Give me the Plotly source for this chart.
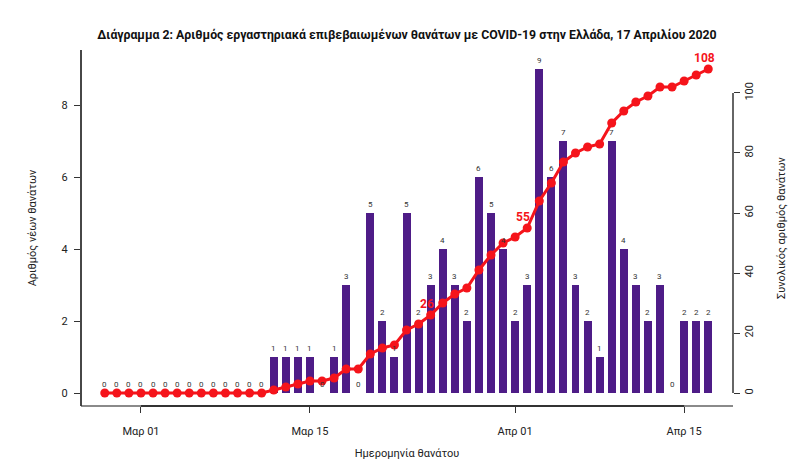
import pandas as pd
import plotly.graph_objects as go

dates = pd.date_range("2020-02-27", "2020-04-17", freq="D")

daily_deaths = [0, 0, 0, 0, 0, 0, 0, 0, 0, 0, 0, 0, 0, 0,
                1, 1, 1, 1, 0, 1, 3, 0, 5, 2, 1, 5, 2, 3, 4, 3, 2, 6, 5, 4,
                2, 3, 9, 6, 7, 3, 2, 1, 7, 4, 3, 2, 3, 0, 2, 2, 2]

cumulative_deaths = [0, 0, 0, 0, 0, 0, 0, 0, 0, 0, 0, 0, 0, 0,
                     1, 2, 3, 4, 4, 5, 8, 8, 13, 15, 16, 21, 23, 26, 30, 33, 35, 41, 46, 50,
                     52, 55, 64, 70, 77, 80, 82, 83, 90, 94, 97, 99, 102, 102, 104, 106, 108]

labelled_dates = ["2020-03-25", "2020-04-02", "2020-04-17"]

x_tick_dates = ["2020-03-01", "2020-03-15", "2020-04-01", "2020-04-15"]
x_tick_text = ["Μαρ 01", "Μαρ 15", "Απρ 01", "Απρ 15"]
left_ticks = [0, 2, 4, 6, 8]
right_ticks = [0, 20, 40, 60, 80, 100]

title_text = "Διάγραμμα 2: Αριθμός εργαστηριακά επιβεβαιωμένων θανάτων με COVID-19 στην Ελλάδα, 17 Απριλίου 2020"

FONT = "Roboto"
BAR_COLOR = "#4E1C87"
LINE_COLOR = "#F5141B"
AXIS_COLOR = "#333333"

fig = go.Figure()
fig.add_trace(go.Bar(
    x=dates, y=daily_deaths, yaxis="y",
    width=0.66 * 86400000,
    marker=dict(color=BAR_COLOR, line=dict(width=0)),
    hoverinfo="x+y",
))
fig.add_trace(go.Scatter(
    x=dates, y=cumulative_deaths, yaxis="y2", mode="lines+markers",
    line=dict(color=LINE_COLOR, width=3),
    marker=dict(color=LINE_COLOR, size=9),
))

annotations = []
for d, v in zip(dates, daily_deaths):
    annotations.append(dict(
        x=d, y=v, xref="x", yref="y", text=str(v), showarrow=False,
        yshift=9, font=dict(family=FONT, size=8, color="#333333"),
    ))
for d, v in zip(dates, cumulative_deaths):
    if d.strftime("%Y-%m-%d") in labelled_dates:
        annotations.append(dict(
            x=d, y=v, xref="x", yref="y2", text=str(v), showarrow=False,
            yshift=11, xshift=-4,
            font=dict(family=FONT, size=12, color=LINE_COLOR, weight="bold"),
        ))

shapes = [
    dict(type="line", xref="paper", yref="paper", x0=0, x1=1, y0=0, y1=0,
         line=dict(color="#8a8a8a", width=2)),
    dict(type="line", xref="x", yref="paper", x0=x_tick_dates[0], x1=x_tick_dates[-1], y0=0, y1=0,
         line=dict(color=AXIS_COLOR, width=2)),
    dict(type="line", xref="paper", yref="paper", x0=0, x1=0, y0=0, y1=1,
         line=dict(color=AXIS_COLOR, width=1.8)),
    dict(type="line", xref="paper", yref="y2", x0=1, x1=1, y0=right_ticks[0], y1=right_ticks[-1],
         line=dict(color=AXIS_COLOR, width=1.5)),
]

fig.update_layout(
    width=790, height=455,
    margin=dict(l=73, r=65, t=42, b=57, autoexpand=False),
    paper_bgcolor="white", plot_bgcolor="white",
    showlegend=False,
    bargap=0,
    font=dict(family=FONT, size=11, color=AXIS_COLOR),
    title=dict(text=title_text, x=0.5, xref="paper", xanchor="center", y=0.9407, yref="container",
               yanchor="middle", font=dict(family=FONT, size=12.3, color="#111111", weight="bold")),
    xaxis=dict(
        type="date", range=["2020-02-25 00:45", "2020-04-19 01:10"],
        tickvals=x_tick_dates, ticktext=x_tick_text, automargin=False,
        ticks="outside", ticklen=6, tickcolor=AXIS_COLOR, tickwidth=1, ticklabelstandoff=9,
        showgrid=False, zeroline=False, showline=False,
        tickfont=dict(size=11, color="#222222"),
        title=dict(text="Ημερομηνία θανάτου", standoff=12, font=dict(size=11, color="#222222")),
    ),
    yaxis=dict(
        range=[-0.361, 9.528], tickvals=left_ticks, automargin=False,
        ticks="outside", ticklen=6, tickcolor=AXIS_COLOR, tickwidth=1, ticklabelstandoff=4,
        showgrid=False, zeroline=False, showline=False,
        tickfont=dict(size=11, color="#222222"),
        title=dict(text="Αριθμός νέων θανάτων", standoff=22, font=dict(size=11, color="#222222")),
    ),
    yaxis2=dict(
        overlaying="y", side="right", range=[-4.333, 114.33], tickvals=right_ticks, automargin=False,
        ticks="outside", ticklen=6, tickcolor=AXIS_COLOR, tickwidth=1, tickangle=-90,
        showgrid=False, zeroline=False, showline=False,
        tickfont=dict(size=11, color="#222222"),
        title=dict(text="Συνολικός αριθμός θανάτων", standoff=22, font=dict(size=11, color="#222222")),
    ),
    shapes=shapes,
    annotations=annotations,
)

fig.write_html("out.html")
